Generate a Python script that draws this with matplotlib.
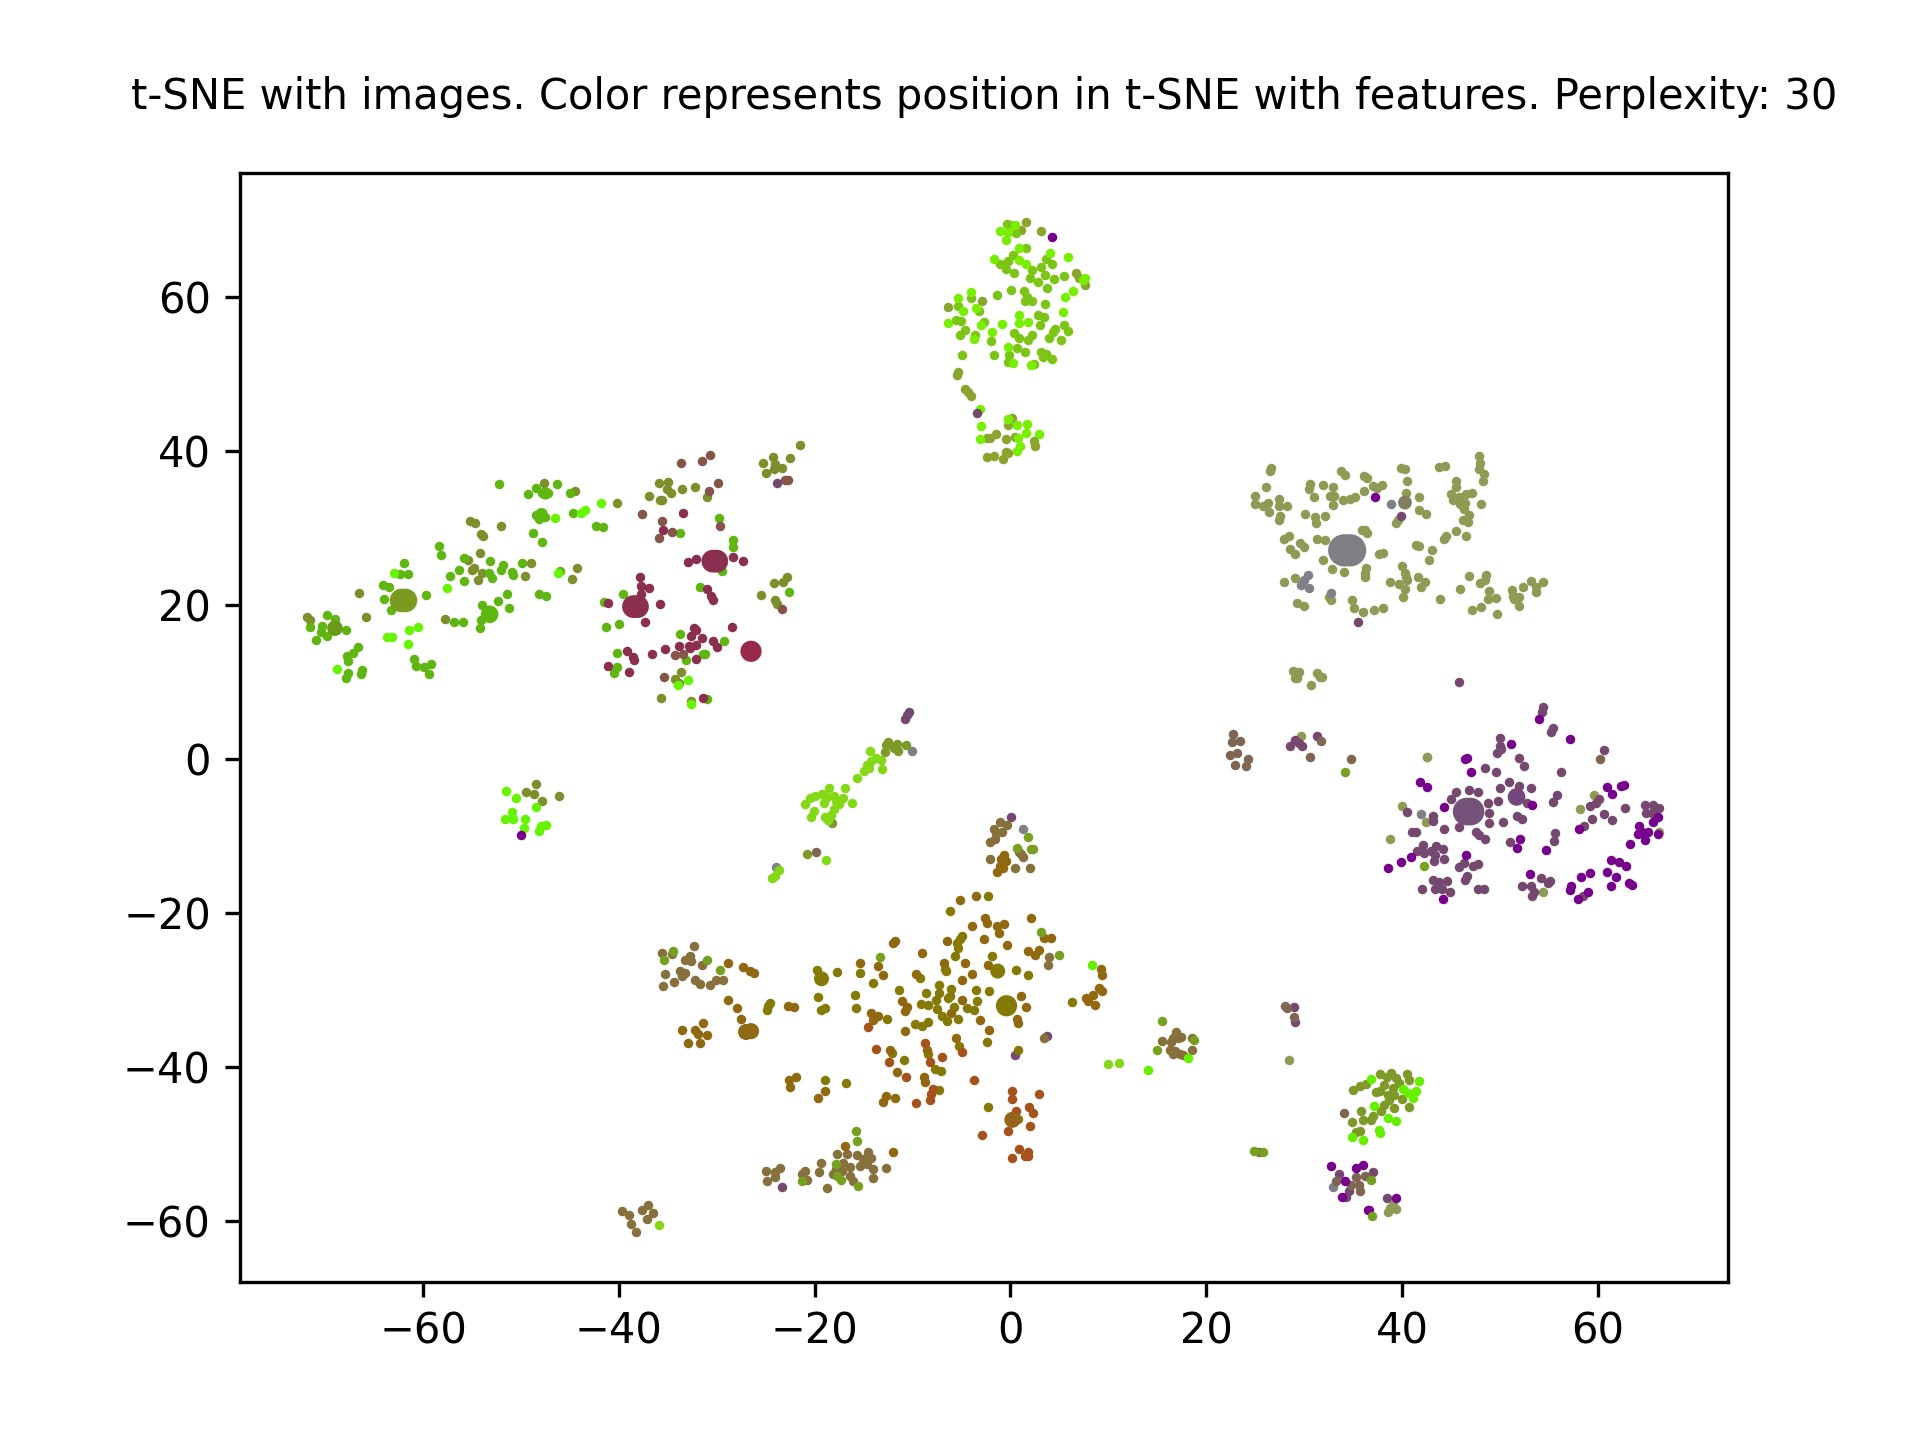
import matplotlib
matplotlib.use("Agg")
import matplotlib.pyplot as plt

TITLE = "t-SNE with images. Color represents position in t-SNE with features. Perplexity: 30"

# ---- left cluster ----
left_green = [(-71.6,17.1),(-69.8,18.7),(-69.0,18.2),(-70.3,17.3),(-70.4,16.5),(-69.8,16.0),(-70.9,15.5),(-67.9,16.7),(-66.6,14.5),(-67.2,13.8),(-67.8,13.4),(-67.7,12.7),(-67.7,11.2),(-67.9,10.5),(-66.2,11.6),(-66.3,11.0),(-64.1,22.6),(-63.5,22.3),(-64.0,20.8),(-63.3,19.4),(-62.4,24.0),(-61.9,25.4),(-61.5,24.0),(-59.7,21.3),(-60.9,13.0),(-60.7,12.1),(-59.9,12.0),(-59.2,12.3),(-59.4,11.1),(-58.4,27.7),(-58.2,26.5),(-56.8,17.8),(-55.9,17.8),(-57.2,23.8),(-56.3,24.6),(-55.8,26.1),(-55.8,23.1),(-53.2,25.7),(-53.3,24.2),(-53.0,23.5),(-51.8,25.2),(-52.0,24.5),(-50.9,24.3),(-50.8,23.9),(-49.9,25.4),(-54.0,20.0),(-52.3,20.5),(-51.4,21.4),(-51.2,19.6),(-54.1,18.1),(-54.2,17.0),(-52.2,35.7),(-49.3,34.4),(-48.5,35.2),(-47.8,34.5),(-47.2,34.5),(-46.3,35.7),(-45.0,34.5),(-48.5,31.7),(-48.2,31.2),(-47.5,31.4),(-44.7,31.9),(-42.3,30.3),(-41.6,30.1),(-48.8,29.3),(-47.8,28.2),(-46.0,24.4),(-48.2,21.4),(-47.4,21.2),(-39.6,21.5),(-41.5,20.4),(-41.3,17.2),(-40.0,17.5),(-40.2,13.8),(-40.2,12.0),(-40.5,11.2),(-33.8,29.4),(-29.8,31.3),(-28.3,28.4),(-28.3,27.5),(-29.5,24.4),(-31.7,22.3),(-33.8,16.2),(-29.3,15.3),(-33.1,12.9),(-31.4,13.7),(-31.2,13.7),(-22.6,21.7),(-31.0,7.8)]
left_bright = [(-68.8,11.7),(-63.0,24.2),(-63.7,15.8),(-63.2,15.8),(-61.4,16.7),(-60.5,17.1),(-61.5,14.9),(-57.6,22.2),(-46.5,31.3),(-43.9,32.0),(-43.5,32.3),(-41.8,33.2),(-46.2,24.1),(-32.9,10.3),(-32.6,7.1),(-34.0,9.6),(-51.5,-4.1),(-50.5,-5.0),(-48.5,-6.2),(-50.9,-6.8),(-51.6,-7.8),(-50.8,-7.8),(-49.6,-7.8),(-49.7,-8.9),(-48.2,-9.3),(-48.0,-8.7),(-47.4,-8.5)]
left_olive = [(-71.9,18.4),(-71.6,18.0),(-66.5,21.6),(-65.8,18.4),(-57.8,18.2),(-55.4,25.9),(-55.0,24.5),(-54.8,24.8),(-54.4,23.3),(-54.2,26.8),(-54.0,24.1),(-49.6,23.8),(-49.0,25.5),(-55.2,30.9),(-54.7,30.6),(-54.1,29.2),(-53.9,29.0),(-52.0,30.3),(-47.6,35.8),(-44.5,34.8),(-40.2,33.3),(-44.3,24.8),(-44.8,23.4),(-35.9,35.8),(-35.0,36.0),(-35.1,35.0),(-34.7,34.5),(-36.9,34.2),(-35.8,33.7),(-35.6,33.6),(-33.5,35.0),(-32.2,35.3),(-31.0,34.0),(-21.5,40.8),(-22.5,39.1),(-24.3,39.2),(-25.3,38.4),(-24.0,38.3),(-24.2,37.7),(-23.3,37.8),(-25.0,37.2),(-24.2,22.8),(-23.2,23.0),(-22.8,23.6),(-25.5,21.3),(-24.0,20.7),(-23.8,20.1),(-33.7,11.3),(-34.3,10.4),(-33.9,9.9),(-35.7,8.0),(-32.6,7.6),(-48.5,-3.2),(-49.5,-4.3),(-48.7,-4.5),(-47.8,-5.4),(-46.1,-4.8)]
maroon = [(-32.9,25.6),(-32.1,26.0),(-28.3,26.2),(-27.3,25.7),(-33.4,32.0),(-35.5,29.7),(-37.8,23.6),(-37.7,22.5),(-36.9,22.2),(-37.7,21.4),(-35.8,20.1),(-37.3,17.8),(-41.1,20.3),(-31.0,22.1),(-30.6,21.2),(-30.4,20.7),(-32.3,17.0),(-32.1,16.8),(-32.6,16.0),(-31.5,15.7),(-28.4,17.2),(-30.4,15.3),(-30.0,14.6),(-33.9,14.7),(-35.3,14.3),(-32.8,14.7),(-32.7,14.4),(-32.1,14.8),(-36.6,13.6),(-32.1,13.0),(-39.2,14.1),(-38.6,13.3),(-38.5,12.9),(-41.1,12.1),(-39.0,11.3),(-31.4,8.0)]
maroon_brown = [(-37.6,31.8),(-35.6,30.9),(-34.6,29.5),(-35.9,28.7),(-29.7,30.2),(-34.3,13.5),(-33.4,13.6),(-35.4,10.7),(-33.7,38.5),(-30.8,34.8),(-23.3,19.5),(-29.9,35.8),(-23.0,36.2),(-22.7,36.2),(-31.5,38.7),(-30.7,39.5)]

# ---- top centre cluster ----
top_bright = [(-1.1,68.5),(-0.5,67.4),(-0.2,68.4),(0.5,69.3),(0.9,66.3),(-1.7,64.9),(0.9,64.8),(1.6,64.2),(4.0,65.7),(5.9,65.2),(7.6,62.5),(7.4,62.2),(6.4,60.7),(5.6,60.0),(5.4,58.0),(-4.0,60.6),(-5.4,59.9),(-3.5,58.6),(-4.8,58.2),(-6.4,56.6),(-3.0,56.4),(-0.9,56.5),(0.9,56.6),(0.9,57.6),(1.8,56.8),(-1.9,55.5),(-3.7,54.5),(-0.2,53.5),(0.3,51.4),(2.1,51.2),(-3.1,45.4),(-3.0,43.2),(-3.1,41.6),(-0.2,44.1),(0.7,43.4),(1.7,43.5),(1.6,42.3),(2.9,42.2),(0.8,41.7),(1.0,40.6),(0.7,40.0)]
top_mid = [(-0.4,69.4),(0.0,69.3),(0.6,68.3),(1.6,66.3),(-1.1,64.2),(-0.5,63.6),(-0.2,64.7),(0.3,65.4),(0.4,63.1),(2.2,63.5),(2.0,62.4),(3.1,63.9),(3.6,64.9),(4.2,64.3),(3.5,62.8),(4.4,62.3),(2.8,61.9),(5.5,62.7),(3.7,61.1),(0.1,60.9),(-1.4,60.3),(1.4,60.7),(1.7,60.0),(1.5,59.4),(2.2,59.4),(3.5,59.1),(-4.0,59.8),(-5.4,58.8),(-3.2,58.1),(-5.6,57.0),(-5.1,56.9),(-2.7,56.7),(-4.6,55.7),(-5.2,55.0),(-3.6,55.0),(-2.0,54.3),(-4.9,52.5),(-1.7,52.5),(0.4,55.3),(0.9,54.6),(1.8,54.4),(2.2,55.1),(0.7,53.4),(1.5,52.8),(-0.1,52.5),(-0.2,51.6),(2.4,51.3),(2.8,57.6),(3.4,57.4),(3.0,56.4),(4.6,55.8),(4.3,55.5),(3.9,54.7),(5.2,54.4),(5.9,55.6),(5.5,56.3),(3.1,52.9),(3.6,52.6),(3.3,52.2),(4.2,51.9)]
top_olive = [(1.6,69.7),(1.1,68.7),(3.1,68.6),(6.7,63.1),(7.0,62.5),(7.6,61.6),(-2.9,59.5),(-6.4,58.7),(-5.4,50.2),(-5.5,49.8),(-4.6,48.0),(-4.3,47.6),(-4.0,47.1),(0.2,44.3),(-0.2,43.4),(-1.5,42.2),(-2.4,41.7),(-2.1,41.7),(-0.5,41.5),(0.5,41.8),(2.4,41.3),(2.5,40.6),(-2.4,39.2),(-1.7,39.3),(-0.8,38.9),(-0.5,39.9),(-0.2,39.8)]

# ---- upper right cluster ----
khaki = [(26.6,37.8),(26.5,37.4),(26.1,35.3),(25.0,34.2),(25.0,33.1),(25.8,32.9),(26.3,33.3),(27.4,33.8),(27.4,32.9),(28.3,32.9),(26.4,32.1),(27.5,31.6),(27.4,31.0),(30.6,35.7),(30.5,35.0),(31.9,35.6),(32.9,35.3),(31.0,34.0),(30.1,31.8),(31.1,31.4),(32.1,31.6),(31.2,30.6),(32.6,34.2),(33.1,34.2),(32.9,33.0),(34.0,33.7),(34.7,33.8),(35.2,34.0),(33.8,37.4),(34.2,36.9),(36.1,36.8),(36.4,36.5),(36.1,34.8),(37.0,35.4),(37.4,35.2),(38.0,35.6),(39.9,37.8),(40.3,37.6),(40.5,36.1),(40.4,34.6),(41.7,34.0),(41.7,32.4),(42.4,31.8),(39.4,30.6),(39.6,31.0),(43.8,37.9),(44.4,38.1),(47.9,39.4),(48.0,38.5),(47.9,37.7),(48.4,37.0),(48.3,36.1),(45.5,36.1),(45.5,35.3),(45.0,34.4),(45.2,33.7),(45.8,34.0),(46.5,34.4),(47.1,34.6),(46.4,33.2),(45.9,33.1),(46.3,32.5),(48.1,33.1),(46.8,31.7),(46.2,31.1),(46.7,30.8),(45.5,29.6),(46.5,29.0),(44.5,28.9),(44.3,28.6),(27.9,28.6),(28.5,29.0),(29.6,28.0),(30.0,27.6),(28.6,27.3),(29.1,26.6),(31.3,28.6),(32.1,28.5),(35.9,29.8),(36.2,29.7),(36.4,29.3),(37.6,26.6),(38.1,26.8),(41.4,27.8),(41.7,27.7),(43.1,27.1),(42.8,25.9),(31.9,25.9),(32.8,24.7),(34.1,24.3),(36.3,24.8),(36.2,24.2),(36.2,23.7),(40.0,25.1),(40.3,24.2),(40.4,23.7),(40.5,23.2),(38.8,23.0),(39.7,22.7),(40.3,22.1),(40.1,21.1),(41.6,23.6),(42.3,23.0),(41.9,22.4),(43.9,20.8),(45.9,22.1),(46.8,23.8),(48.6,23.9),(48.5,23.2),(48.0,22.9),(48.9,21.8),(48.8,20.8),(49.6,20.9),(48.1,19.7),(47.2,19.3),(49.7,18.9),(51.2,21.9),(51.3,21.2),(51.4,20.8),(52.0,21.0),(51.9,19.9),(52.4,22.4),(53.2,23.1),(53.7,22.3),(53.7,21.7),(54.4,23.0),(27.9,23.0),(29.1,23.5),(29.3,20.3),(30.0,19.9),(32.5,21.1),(32.7,20.6),(34.9,20.6),(35.1,19.6),(36.0,19.1),(37.1,19.4),(38.1,19.6),(28.9,11.4),(29.5,11.3),(29.1,10.5),(29.3,10.5),(30.7,9.6),(31.3,11.2),(31.8,10.7),(31.6,10.7),(29.7,3.0),(42.6,0.3),(42.6,0.3),(40.0,-6.1),(42.5,-8.1),(38.8,-10.4),(59.6,-4.6),(58.2,-6.5),(66.3,-9.4),(54.4,-17.2),(28.5,-39.1),(38.6,-58.8),(38.8,-58.2),(39.1,-57.8),(39.4,-58.4)]
slate = [(30.4,23.9),(30.0,23.3),(29.7,22.6),(30.5,22.2),(32.7,21.6),(38.9,33.1),(41.9,-7.1),(33.0,-55.5),(-23.9,-14.0),(-10.1,1.1),(1.3,-9.1)]

# ---- right cluster ----
mauve = [(54.4,6.8),(54.3,6.1),(55.4,4.1),(55.2,3.5),(60.6,1.2),(50.0,2.7),(50.0,1.7),(49.7,0.8),(50.1,1.3),(51.9,0.2),(52.5,-0.9),(56.2,-1.6),(48.5,-1.1),(49.6,-1.7),(50.9,-2.9),(51.9,-3.5),(53.2,-3.7),(50.0,-3.7),(45.5,-4.2),(46.8,-4.0),(47.8,-4.2),(45.0,-5.2),(48.8,-5.7),(49.8,-5.4),(52.8,-5.7),(48.9,-7.0),(48.9,-8.3),(50.3,-8.2),(51.7,-7.4),(52.3,-7.8),(45.8,-8.8),(44.3,-9.1),(47.6,-9.5),(47.9,-9.9),(48.5,-10.3),(51.0,-10.7),(40.5,-6.8),(43.2,-7.4),(43.2,-8.0),(41.0,-9.4),(41.4,-9.5),(42.1,-11.1),(41.5,-11.9),(42.2,-12.2),(43.0,-11.9),(43.5,-11.3),(44.2,-11.7),(43.4,-12.4),(43.3,-13.2),(44.3,-12.9),(46.3,-13.5),(45.8,-14.0),(47.3,-13.8),(47.8,-13.6),(46.6,-15.2),(46.4,-15.7),(43.2,-15.7),(43.8,-15.9),(44.6,-15.8),(42.0,-16.9),(43.4,-16.8),(44.1,-16.9),(44.9,-17.2),(47.8,-16.8),(48.4,-16.9),(52.3,-16.4),(53.2,-16.4),(54.2,-15.4),(55.1,-15.8),(54.9,-16.1),(53.5,-17.2),(53.3,-17.8),(55.5,-10.6),(55.6,-9.6),(55.4,-5.5),(55.8,-4.7),(62.8,-6.4),(60.1,-5.2),(59.8,-5.7),(59.2,-6.1),(60.6,-7.1),(59.4,-7.7),(61.4,-7.9),(58.6,-8.7),(58.5,-17.7),(64.8,-6.0),(65.6,-5.9),(66.3,-6.3),(64.9,-7.0),(65.5,-7.0),(28.6,1.7),(29.1,2.5),(29.8,1.7),(29.5,2.1),(31.3,3.0),(39.9,31.6),(35.5,17.8),(45.8,10.0),(-3.4,44.9),(0.5,-38.4),(3.7,-35.9),(-23.3,-55.5),(0.1,-7.5),(-10.4,6.1),(-10.6,5.7),(-10.8,5.2),(-23.8,35.8),(29.0,-32.2),(29.1,-34.1),(33.6,-53.8),(37.0,-53.6),(38.5,-56.9),(34.6,-56.1),(34.3,-56.8)]
purple = [(51.1,2.0),(57.2,2.6),(54.0,5.2),(46.4,0.0),(46.6,0.1),(47.0,-1.7),(41.8,-3.0),(42.6,-3.6),(44.3,-6.2),(53.3,-6.0),(52.1,-10.4),(51.7,-11.5),(54.7,-11.8),(40.9,-12.7),(39.9,-13.4),(38.6,-14.1),(46.5,-12.4),(44.2,-18.2),(53.1,-14.9),(58.1,-9.1),(60.9,-3.6),(61.5,-4.5),(62.4,-3.5),(62.7,-3.3),(66.1,-7.5),(65.6,-8.1),(64.2,-8.7),(64.1,-9.7),(64.5,-9.4),(65.1,-9.5),(64.8,-10.5),(63.3,-11.0),(66.2,-9.7),(61.3,-13.1),(62.2,-13.3),(62.9,-13.8),(60.9,-14.6),(61.9,-15.3),(61.3,-16.5),(63.2,-16.1),(63.5,-16.3),(59.2,-14.8),(58.3,-15.3),(57.3,-16.5),(57.2,-17.0),(59.0,-17.2),(58.0,-18.2),(4.2,67.8),(-50.0,-9.9),(37.2,34.0),(32.7,-52.8),(35.3,-53.0),(36.0,-52.7),(34.2,-54.7),(33.9,-56.8),(39.4,-57.0),(36.6,-58.5),(36.5,-58.5)]
mauve_brown = [(60.2,0.0),(31.7,2.4),(30.6,0.3),(34.8,0.0),(22.7,3.3),(22.6,2.2),(23.5,2.3),(23.1,0.8),(22.4,0.5),(24.3,0.0),(24.1,-0.9),(22.9,-0.7),(28.0,-32.0),(28.3,-32.3),(29.0,-33.4),(25.4,-51.0),(34.1,-45.9),(33.3,-54.7),(35.3,-54.2),(36.2,-54.1),(34.8,-55.3),(35.6,-55.2),(35.7,-56.0),(-19.9,-12.1)]

# ---- lower centre cluster ----
dark_olive = [(-6.2,-19.7),(-2.3,-17.8),(-4.9,-22.9),(-5.2,-23.4),(-5.5,-23.9),(-5.4,-24.5),(-5.7,-25.5),(-6.7,-27.2),(-6.6,-27.5),(0.6,-27.4),(-1.9,-25.5),(-9.2,-28.4),(-7.3,-29.3),(-8.6,-30.3),(-11.4,-30.0),(-7.3,-30.3),(-6.1,-29.8),(-3.5,-29.9),(-2.2,-30.1),(-6.2,-30.7),(-7.6,-31.3),(-6.4,-31.0),(-9.1,-31.8),(-8.4,-31.9),(-7.5,-32.4),(-5.8,-32.1),(-4.4,-32.3),(-3.4,-31.4),(-3.7,-32.6),(-7.0,-33.3),(-5.4,-33.7),(-6.5,-34.0),(-8.4,-34.1),(-9.0,-34.6),(-9.7,-34.4),(-12.6,-33.7),(-5.3,-37.2),(-2.4,-36.7),(-10.9,-39.1),(-8.4,-38.3),(-12.1,-38.1),(-7.7,-40.2),(-7.1,-40.5),(-7.3,-42.9),(-19.8,-27.4),(-17.7,-27.6),(-19.7,-30.8),(-15.9,-30.6),(-15.8,-32.3),(-14.0,-29.1),(-15.4,-27.7),(-19.3,-32.6),(-18.9,-32.3),(-16.8,-42.0),(-18.9,-41.6),(-24.6,-31.6),(-24.8,-32.0),(-24.9,-32.5),(-2.3,-45.2),(0.8,-37.7),(0.8,-46.7),(1.8,-28.0),(6.3,-31.5)]
brown = [(-5.2,-18.3),(-3.5,-17.7),(-12.0,-23.8),(-11.8,-23.6),(-15.4,-26.5),(-13.5,-26.8),(-13.0,-28.0),(-9.6,-27.9),(-6.5,-23.6),(-9.0,-25.1),(-6.8,-26.5),(-4.6,-26.4),(-2.3,-26.7),(-3.9,-27.9),(-4.9,-28.7),(-3.9,-21.7),(-2.6,-20.6),(-2.4,-21.3),(-1.4,-21.7),(-0.7,-21.4),(-1.2,-22.5),(-2.7,-23.4),(-0.4,-24.1),(2.1,-20.6),(1.8,-24.9),(2.5,-25.4),(2.9,-24.8),(3.4,-23.2),(4.1,-23.2),(-11.1,-31.4),(-10.6,-32.1),(-10.8,-32.7),(-14.2,-33.0),(-13.5,-33.3),(-14.0,-33.9),(-4.9,-31.2),(-6.1,-32.9),(-3.1,-33.9),(-2.2,-35.2),(-10.8,-35.3),(-5.6,-36.2),(1.1,-30.7),(1.6,-32.2),(0.7,-33.7),(0.8,-34.2),(-8.5,-37.7),(-12.3,-37.7),(-11.6,-40.6),(-8.8,-41.2),(-8.7,-41.9),(-12.7,-43.7),(-11.8,-44.0),(-13.0,-44.5),(-28.8,-31.2),(-27.9,-32.3),(-27.5,-33.7),(-22.7,-32.0),(-22.1,-32.2),(-28.8,-26.5),(-27.3,-27.0),(-26.6,-27.5),(-26.2,-27.8),(-33.6,-35.2),(-32.2,-35.2),(-31.9,-35.7),(-31.4,-34.3),(-31.0,-35.8),(-32.9,-36.8),(-31.7,-36.8),(-22.6,-41.6),(-21.9,-41.3),(-22.5,-42.5),(-18.9,-43.0),(-19.7,-44.0),(-16.9,-50.2),(-12.0,-51.0),(9.3,-27.2),(9.4,-28.0),(9.0,-29.7),(9.4,-30.1),(8.4,-30.6),(7.7,-31.0),(7.9,-31.4),(8.6,-31.9),(-1.4,-14.7),(-1.1,-13.9),(-0.8,-14.1),(-0.7,-12.4),(-1.0,-13.0),(-0.5,-13.2)]
orange = [(-14.6,-34.7),(-13.7,-37.6),(-12.4,-39.3),(-10.7,-41.3),(-8.7,-36.8),(-8.2,-39.3),(-7.0,-38.6),(-4.9,-38.0),(-3.7,-41.6),(-9.6,-44.6),(-8.2,-44.2),(-8.1,-43.5),(-7.9,-42.8),(0.2,-43.0),(0.2,-44.1),(2.9,-43.5),(1.9,-45.2),(2.3,-45.9),(0.6,-45.7),(-0.2,-48.2),(2.0,-47.6),(-2.9,-48.8),(0.9,-50.6),(1.8,-51.0),(1.5,-51.5),(1.8,-51.5),(0.2,-51.7)]
grey_brown = [(-35.6,-25.1),(-34.6,-25.3),(-32.3,-24.2),(-33.2,-26.0),(-32.7,-25.5),(-32.6,-26.2),(-31.5,-26.7),(-33.8,-27.5),(-33.2,-27.7),(-33.6,-28.1),(-35.3,-27.9),(-34.4,-28.9),(-35.5,-29.4),(-32.2,-28.6),(-31.7,-29.2),(-30.7,-29.3),(-30.1,-28.6),(-29.4,-28.7),(3.9,-25.7),(3.8,-26.7),(3.4,-36.2),(-25.0,-53.4),(-24.1,-53.6),(-23.5,-53.0),(-24.0,-54.2),(-24.9,-54.8),(-21.0,-53.4),(-21.3,-53.9),(-20.8,-54.6),(-19.4,-52.4),(-19.6,-53.6),(-18.7,-55.7),(-17.7,-51.3),(-18.1,-53.9),(-17.8,-53.2),(-17.2,-53.5),(-17.1,-52.4),(-16.7,-51.3),(-16.4,-52.9),(-16.4,-54.1),(-16.1,-54.8),(-15.7,-51.4),(-15.4,-52.8),(-15.1,-51.9),(-14.7,-52.6),(-14.5,-51.0),(-14.2,-51.8),(-14.0,-53.2),(-14.0,-54.4),(-12.7,-53.1),(-39.7,-58.7),(-39.0,-59.2),(-38.2,-61.3),(-38.8,-60.3),(-37.6,-58.5),(-37.0,-57.9),(-36.5,-58.9),(-37.1,-59.7),(-1.1,-8.2),(-0.3,-8.5),(-1.7,-9.1),(-0.9,-9.4),(-1.5,-9.6),(-1.6,-10.3),(-2.1,-10.7),(0.9,-12.0),(1.1,-12.3),(1.3,-12.7),(-2.1,-12.9),(0.5,-14.1),(2.0,-14.1),(15.5,-36.6),(16.9,-35.4),(16.6,-36.2),(17.1,-36.2),(17.4,-36.0),(16.4,-36.7),(16.3,-37.7),(16.8,-37.9),(16.6,-38.2),(17.3,-38.2),(17.6,-38.4),(18.5,-36.2),(18.5,-37.8)]
moss = [(-34.5,-24.9),(-35.4,-26.0),(-31.0,-26.1),(-29.7,-27.4),(-13.3,-25.7),(3.1,-22.4),(5.0,-25.4),(-15.8,-48.2),(-15.7,-49.6),(-17.8,-52.5),(-17.7,-54.1),(-17.3,-54.6),(-15.6,-55.4),(-21.3,-54.8),(0.7,-11.5),(1.8,-10.1),(2.1,-11.6),(2.3,-11.6),(15.5,-34.0),(15.0,-37.7),(18.8,-36.5),(25.8,-51.0),(24.9,-50.9),(36.8,-54.6),(36.9,-59.3),(34.2,-1.7),(42.2,-13.9)]

# ---- lime clusters ----
lime = [(-14.3,1.0),(-13.7,0.2),(-13.2,-0.1),(-14.2,-0.2),(-14.7,-0.8),(-14.4,-1.1),(-13.1,-1.3),(-15.0,-1.5),(-15.7,-2.4),(-16.9,-3.8),(-18.5,-3.8),(-19.2,-4.5),(-20.0,-4.8),(-20.5,-5.0),(-21.0,-5.8),(-19.0,-5.7),(-18.7,-4.9),(-18.0,-4.8),(-17.8,-5.4),(-17.1,-5.1),(-17.5,-5.8),(-16.2,-5.7),(-18.0,-6.5),(-18.3,-7.3),(-18.9,-7.5),(-20.1,-6.7),(-20.4,-7.5),(-18.6,-7.9),(-18.8,-13.1),(-23.6,-14.4),(-24.1,-15.1),(-24.4,-15.4),(10.0,-39.5),(11.1,-39.4),(-35.9,-60.5)]
lime_olive = [(-12.5,2.2),(-12.7,1.9),(-11.6,2.0),(-11.9,1.4),(-11.5,1.1),(-10.7,1.9),(-12.8,0.9),(-18.2,-8.3),(-20.8,-12.3),(35.0,-42.9),(35.7,-42.4),(36.3,-42.1),(37.8,-40.8),(38.5,-41.3),(38.9,-40.7),(39.4,-41.4),(39.7,-42.0),(40.5,-40.8),(40.7,-41.6),(38.2,-42.3),(37.3,-43.2),(37.8,-43.1),(39.1,-42.7),(38.6,-43.6),(39.2,-43.6),(38.7,-44.2),(40.0,-44.1),(40.7,-45.2),(39.2,-45.3),(38.2,-44.9),(37.9,-45.7),(35.8,-45.6),(36.0,-46.8),(36.8,-46.8),(37.0,-46.3),(34.9,-47.1),(35.7,-48.2),(35.3,-48.4)]
neon = [(8.3,-26.7),(18.1,-38.8),(14.1,-40.3),(36.8,-41.5),(40.1,-42.8),(40.6,-43.3),(41.4,-43.1),(41.7,-41.8),(41.1,-44.0),(37.1,-45.0),(38.6,-46.6),(39.4,-46.9),(37.6,-48.1),(37.8,-48.5),(34.9,-49.0),(36.0,-49.4)]

# ---- dense clumps ----
clump_x = [-62.2,-61.8,-53.2,-69.0,-47.5,-47.9,-30.4,-30.0,-38.5,-38.1,-26.5,34.1,34.7,46.6,47.0,51.7,40.3,-0.4,-1.3,-19.3,-26.5,-27.0,0.2]
clump_y = [20.6,20.6,18.8,17.0,34.5,31.8,25.7,25.7,19.8,19.8,14.0,27.1,27.1,-6.8,-6.8,-4.9,33.3,-32.0,-27.5,-28.5,-35.3,-35.4,-46.8]
clump_s = [32,32,18,14,9,9,30,30,30,30,26,60,60,44,44,18,11,26,13,13,15,15,15]
clump_c = ['#7a9a20','#7a9a20','#5fb80f','#6a9a18','#5fb80f','#5fb80f','#8b2f50','#8b2f50','#8b2f50','#8b2f50','#962a48','#7e7f82','#7e7f82','#75527a','#75527a','#74487a','#7f7f60','#857a05','#857a05','#857a05','#8f6a15','#8f6a15','#96641a']

series = [
    (khaki, '#8f9a55'), (slate, '#7f8088'), (top_olive, '#8aa52e'), (top_mid, '#7cc415'),
    (top_bright, '#78ee00'), (left_olive, '#7d8f2a'), (left_green, '#5fb512'), (left_bright, '#66f500'),
    (maroon_brown, '#86554a'), (maroon, '#8b2f50'), (mauve, '#75496f'), (mauve_brown, '#7f6652'),
    (purple, '#76008c'), (grey_brown, '#86703c'), (dark_olive, '#857a05'), (brown, '#90680f'),
    (orange, '#a5521c'), (moss, '#76a020'), (lime_olive, '#7d9a28'), (lime, '#85d815'), (neon, '#66f000'),
]

fig, ax = plt.subplots(figsize=(6.4, 4.8), dpi=300)
for pts, col in series:
    ax.scatter([p[0] for p in pts], [p[1] for p in pts], s=5.2, c=col, linewidths=0)
ax.scatter(clump_x, clump_y, s=clump_s, c=clump_c, linewidths=0)
ax.set_xlim(-78.7, 73.3)
ax.set_ylim(-67.8, 76.1)
ax.set_title(TITLE, fontsize=10, y=1.035)
fig.savefig("out.png", dpi=300)
